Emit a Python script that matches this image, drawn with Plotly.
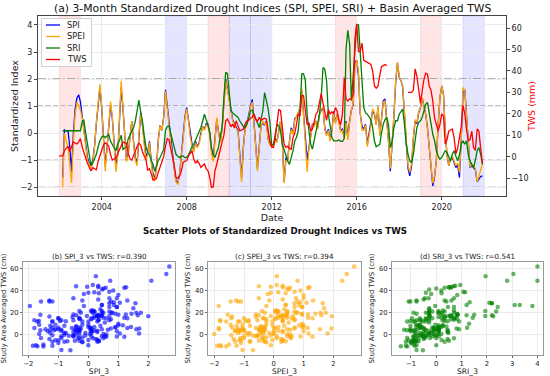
import pandas as pd
import plotly.graph_objects as go

nan = None

# ---- monthly series, Jan 2002 .. Dec 2021 (one row per year) ----
spi_3 = [
    nan, nan, -1.64, 0.12, 0.08, 0.1, -0.5, -1.43, 0.0, 0.9, 1.3, 1.42,
    1.15, 0.65, 0.1, -0.5, -0.9, -1.1, -1.2, -1.0, -0.45, 0.35, 1.2, 1.69,
    0.95, -0.25, -1.2, -0.55, 0.45, 1.05, 0.55, -0.5, -1.2, -0.8, 0.3, 1.7,
    0.9, -0.3, -1.0, -0.75, -0.1, 0.45, -0.3, -0.9, -1.1, 0.05, 0.75, 0.3,
    -0.4, -0.9, -0.7, -0.3, -1.0, -1.5, -1.7, -1.2, -0.2, 0.3, 0.1, 0.6,
    1.6, 1.0, 0.4, -0.3, -0.8, -1.3, -1.75, -1.85, -1.5, -0.8, -0.2, 0.6,
    0.95, 0.5, -0.1, -0.4, -0.65, -0.3, -0.5, -0.35, 0.0, 0.25, 0.15, 0.35,
    0.3, 0.0, -0.6, -0.9, -0.2, 0.5, 0.05, -0.3, 0.2, 1.0, 2.0, 1.65,
    1.2, 0.75, 0.5, 0.35, 0.2, 0.1, -0.75, -1.65, -0.5, 0.2, 0.35, 0.7,
    1.0, 1.25, 0.5, -0.4, -1.3, -0.5, 0.3, 0.35, 0.3, 0.45, -0.2, -0.4,
    -0.45, -0.4, -0.2, -0.3, 0.1, 0.45, -0.3, -1.8, -0.9, -1.0, -0.3, 0.2,
    0.0, 0.55, 0.6, 0.77, 0.9, 1.57, 0.7, -0.3, -1.0, -0.53, 0.0, 0.33,
    0.3, 0.45, 0.2, 0.7, 0.85, 0.95, 0.2, -0.05, 0.15, -0.25, 0.1, 0.8,
    0.4, 0.7, 0.45, 0.1, 0.15, -0.15, 0.45, -0.15, 0.45, 0.85, 1.05, 2.6,
    2.7, 2.1, 0.73, 0.25, 0.15, 0.33, -0.41, -0.04, 0.33, 0.83, 0.7, 0.33,
    0.95, 0.0, 0.5, 1.2, 1.26, 0.58, -0.3, -1.4, -0.5, 0.6, 1.9, 2.6,
    2.06, 1.94, 1.7, 0.7, -0.5, -1.3, -1.58, -1.2, -0.2, 0.46, 0.35, 0.75,
    0.95, 1.3, 1.0, 0.7, 0.2, -0.5, -1.3, -1.95, -1.6, -1.0, 0.3, 1.3,
    1.75, 1.44, 0.09, -0.8, -1.2, -0.95, -0.9, -1.1, -1.27, -1.15, -1.64, -0.28,
    1.5, 1.6, 0.7, -0.41, -1.27, -1.2, -1.27, -1.35, -1.8, -1.7, -1.6, -1.58,
]

spei_3 = [
    nan, nan, -2.0, 0.0, -0.3, -0.5, -1.15, -1.84, -0.3, 0.7, 1.14, 1.0,
    0.85, 0.55, 0.0, -0.55, -1.0, -1.15, -1.3, -1.1, -0.5, 0.4, 1.3, 1.81,
    1.0, -0.3, -1.4, -0.6, 0.45, 1.17, 0.6, -0.6, -1.43, -0.9, 0.3, 1.94,
    0.95, -0.35, -1.05, -0.8, -0.1, 0.45, -0.35, -1.0, -1.2, 0.0, 0.7, 0.3,
    -0.45, -1.0, -0.8, -0.35, -1.1, -1.6, -1.77, -1.25, -0.25, 0.3, 0.1, 0.55,
    1.55, 1.0, 0.35, -0.35, -0.85, -1.35, -1.8, -1.9, -1.5, -0.8, -0.25, 0.55,
    0.9, 0.45, -0.15, -0.45, -0.7, -0.35, -0.55, -0.4, -0.05, 0.25, 0.1, 0.3,
    0.25, -0.1, -0.7, -1.05, -0.3, 0.58, 0.0, -0.35, 0.15, 0.95, 1.95, 1.6,
    1.15, 0.7, 0.45, 0.3, 0.15, 0.05, -0.85, -1.8, -0.55, 0.15, 0.3, 0.65,
    0.95, 1.15, 0.45, -0.5, -1.4, -0.6, 0.25, 0.45, 0.3, 0.4, -0.25, -0.45,
    -0.5, -0.45, -0.25, -0.35, 0.05, 0.45, -0.35, -1.85, -1.0, -1.05, -0.35, 0.15,
    -0.05, 0.5, 0.6, 0.8, 0.95, 1.65, 0.7, -0.4, -1.43, -0.6, -0.05, 0.3,
    0.25, 0.45, 0.15, 0.7, 0.9, 0.95, 0.15, -0.1, 0.1, -0.3, 0.05, 0.75,
    0.35, 0.7, 0.4, 0.05, 0.1, -0.2, 0.4, -0.25, 0.4, 0.85, 1.1, 2.45,
    2.7, 2.3, 0.8, 0.1, 0.1, 0.3, -0.5, -0.1, 0.3, 0.9, 0.75, 0.3,
    1.0, -0.1, 0.45, 1.15, 1.2, 0.55, -0.35, -1.3, -0.45, 0.65, 1.95, 2.62,
    2.1, 1.94, 1.75, 0.75, -0.45, -1.2, -1.45, -1.1, -0.15, 0.5, 0.4, 0.8,
    0.95, 1.32, 1.0, 0.7, 0.15, -0.5, -1.27, -1.85, -1.55, -1.0, 0.3, 1.3,
    1.75, 1.4, 0.05, -0.8, -1.2, -0.95, -0.85, -1.05, -1.2, -1.1, -1.45, -0.25,
    1.69, 1.57, 0.7, -0.4, -1.25, -1.15, -1.2, -1.3, -1.8, -1.6, -1.3, -1.12,
]

sri_3 = [
    nan, nan, 0.09, 0.09, 0.09, 0.09, 0.09, 0.09, 0.09, 0.09, 0.09, 0.09,
    0.09, 0.45, 0.48, 0.0, -0.45, -0.9, -1.2, -1.1, -0.95, -0.78, -0.5, -0.28,
    -0.15, -0.1, -0.16, -0.1, -0.05, -0.3, -0.41, -0.55, -0.65, -0.4, -0.28, -0.07,
    -0.6, -0.55, -0.5, -0.2, -0.05, 0.1, 0.2, 0.45, 0.9, 1.22, 0.8, 0.45,
    -0.1, -0.53, -0.7, -0.8, -1.0, -1.15, -1.4, -1.2, -1.0, -0.9, -0.75, -0.6,
    0.1, 0.25, 0.27, 0.0, -0.28, -0.5, -0.78, -0.85, -0.9, -0.85, -0.84, -0.9,
    -0.9, -0.8, -0.65, -0.5, -0.41, -0.25, -0.16, 0.0, 0.21, 0.45, 0.7, 0.5,
    0.33, 0.0, -0.53, -0.78, -0.9, -0.7, -0.53, -0.1, 0.21, 1.3, 2.25, 2.2,
    1.44, 0.83, 0.75, 0.7, 0.62, 0.58, 0.45, 0.33, 0.25, 0.21, 0.33, 0.55,
    0.83, 0.85, 0.7, 0.58, 0.35, 0.21, 0.5, 0.83, 1.5, 1.2, 0.9, 0.4,
    -0.45, -0.41, -0.04, 0.33, 0.27, 0.09, -0.41, -0.65, -0.84, -1.02, -1.15, -0.9,
    -0.65, -0.28, -0.16, 0.09, 0.83, 2.19, 2.2, 1.94, 0.7, 0.09, -0.41, -0.59,
    -0.28, 0.09, 0.33, 0.7, 1.32, 2.43, 2.37, 1.94, 0.7, 0.21, -0.16, -0.28,
    -0.28, -0.28, -0.25, -0.3, -0.3, -0.2, 3.1, 3.8, 3.3, 1.2, 2.1, 3.05,
    4.0, 4.0, 2.8, 1.95, 0.95, 0.75, 0.7, 0.6, 0.5, 0.2, -0.3, -0.5,
    -0.45, -0.41, 0.0, 0.33, 0.5, 0.58, 0.3, -0.53, -0.3, 0.2, 0.46, 0.46,
    0.7, 0.83, 0.89, 0.33, -0.41, -0.78, -1.02, -1.09, -0.78, -0.28, 0.21, 0.4,
    0.46, 0.6, 0.83, 1.07, 1.14, 0.7, 0.33, -0.04, -0.28, -0.65, -0.84, -0.96,
    -0.9, -0.78, -0.65, -0.72, -0.9, -1.02, -0.78, -0.65, -0.85, -1.02, -0.8, -0.41,
    -0.28, -0.41, -0.28, -0.78, -1.02, -1.15, -1.27, -1.0, -0.65, -0.53, -0.78, -1.15,
]

tws_mm = [
    0.5, 0.5, 0.5, 3.0, 4.0, 5.0, 2.5, 5.0, 7.0, 6.5, 6.0, 7.0,
    8.5, 4.5, 1.5, -0.5, -3.0, -5.0, -6.5, -5.0, -5.5, -6.0, -2.0, 1.0,
    3.0, 5.5, 6.5, 6.0, 5.0, 1.0, -1.5, -1.0, -0.5, 1.5, 3.5, 5.5,
    7.0, 6.5, 6.3, 1.6, -0.8, -1.5, 0.5, 3.2, 5.0, 6.3, 5.5, 2.4,
    0.5, -1.5, -6.1, -5.5, -7.7, -10.8, -10.5, -10.0, -7.0, -4.6, -1.5, 0.1,
    5.0, 8.5, 8.0, 4.5, 0.0, -4.0, -9.6, -10.0, -9.0, -6.5, -2.6, -2.0,
    -1.8, 0.5, 1.5, 2.9, -1.0, -3.0, -1.8, -3.0, -4.9, -4.0, -3.3, -5.5,
    -6.5, -9.6, -14.2, -14.0, -6.5, -3.3, 0.5, 2.9, 7.0, 10.0, 16.8, 17.6,
    15.3, 14.0, 15.3, 13.5, 16.8, 14.0, 12.2, 12.5, 13.0, 15.3, 16.8, 17.0,
    18.0, 18.4, 20.0, 17.6, 16.5, 18.4, 17.0, 17.6, 18.0, 17.6, 12.0, 7.5,
    4.5, 4.4, 9.0, 15.0, 22.0, 21.5, 15.0, 6.0, 4.4, 5.0, 4.0, 3.6,
    9.0, 11.0, 15.0, 20.0, 19.0, 28.5, 28.5, 21.5, 15.0, 16.0, 12.0, 13.0,
    17.0, 20.0, 21.0, 25.0, 29.5, 25.0, 21.0, 17.0, 22.0, 20.0, 21.0, 20.0,
    23.0, 21.0, 17.0, 15.0, 20.0, 37.0, 27.0, 26.0, 27.0, 27.0, 29.0, 55.0,
    62.0, 49.0, 49.0, 53.0, 45.0, 44.5, 44.0, 43.5, 43.0, 40.0, 33.0, 32.0,
    33.0, 38.0, 42.0, 42.5, 43.0, 42.5, nan, nan, nan, nan, nan, nan,
    nan, nan, nan, nan, nan, 30.0, 30.0, 30.0, 31.0, 41.0, 37.5, 30.0,
    25.0, 31.0, 36.0, 39.0, 38.5, 33.0, 31.0, 26.0, 18.0, 15.0, 12.0, 15.0,
    20.0, 19.0, 6.0, 8.0, 12.0, 12.5, 13.0, 9.0, 1.5, 4.0, 9.0, 14.0,
    24.0, 20.0, 13.0, 7.5, 8.0, 12.0, 4.5, 3.0, 13.0, 12.0, 4.0, -3.0,
]

start_month = "2002-01-01"
dry_years = [2002, 2009, 2015, 2019]      # pink bands
wet_years = [2007, 2010, 2011, 2021]      # blue bands
year_ticks = [2004, 2008, 2012, 2016, 2020]
ref_levels = [1, -1, 2, -2]
legend_names = ["SPI", "SPEI", "SRI", "TWS"]
legend_colors = ["blue", "orange", "green", "red"]
scatter_titles = ["(b) SPI_3 vs TWS: r=0.390",
                  "(c) SPEI_3 vs TWS: r=0.394",
                  "(d) SRI_3 vs TWS: r=0.541"]
scatter_xlabels = ["SPI_3", "SPEI_3", "SRI_3"]

dates = pd.date_range(start_month, periods=len(spi_3), freq="MS")

FONT = "DejaVu Sans"
W, H = 550, 376
def px(x):
    return x / W
def py(y):
    return 1 - y / H

fig = go.Figure()

series = [(spi_3, "blue"), (spei_3, "orange"), (sri_3, "green")]
for (vals, col), name in zip(series, legend_names):
    fig.add_trace(go.Scatter(x=dates, y=vals, name=name, mode="lines",
                             line=dict(color=col, width=1.3),
                             xaxis="x", yaxis="y"))
fig.add_trace(go.Scatter(x=dates, y=tws_mm, name="TWS", mode="lines",
                         line=dict(color="red", width=1.3),
                         connectgaps=False, xaxis="x", yaxis="y2"))

scatter_sets = [(spi_3, "blue", "x2", "y3"), (spei_3, "orange", "x3", "y4"),
                (sri_3, "green", "x4", "y5")]
for vals, col, xa, ya in scatter_sets:
    xs, ys = [], []
    for v, t in zip(vals, tws_mm):
        if v is not None and t is not None:
            xs.append(v)
            ys.append(t)
    fig.add_trace(go.Scatter(x=xs, y=ys, mode="markers", showlegend=False,
                             marker=dict(color=col, size=4.5, opacity=0.6,
                                         line=dict(width=0)),
                             xaxis=xa, yaxis=ya))

TOP, BOT, LEFT, RIGHT = 16, 196, 38, 506

shapes = []
for yr in dry_years:
    shapes.append(dict(type="rect", xref="x", yref="paper",
                       x0=f"{yr}-01-01", x1=f"{yr + 1}-01-01",
                       y0=py(BOT), y1=py(TOP),
                       fillcolor="rgba(255,0,0,0.1)",
                       line=dict(color="rgba(255,0,0,0.12)", width=0.8),
                       layer="below"))
for yr in wet_years:
    shapes.append(dict(type="rect", xref="x", yref="paper",
                       x0=f"{yr}-01-01", x1=f"{yr + 1}-01-01",
                       y0=py(BOT), y1=py(TOP),
                       fillcolor="rgba(0,0,255,0.1)",
                       line=dict(color="rgba(0,0,255,0.12)", width=0.8),
                       layer="below"))
for lvl in ref_levels:
    dash = "5px,2.5px" if abs(lvl) == 1 else "8px,2.5px,1.5px,2.5px"
    shapes.append(dict(type="line", xref="paper", yref="y",
                       x0=px(LEFT), x1=px(RIGHT), y0=lvl, y1=lvl,
                       line=dict(color="rgba(0,0,0,0.65)", width=1, dash=dash),
                       layer="below"))

# compact legend box (drawn manually to match the small matplotlib legend)
LG_L, LG_T, LG_R, LG_B = 41.5, 18.5, 91.5, 66.5
shapes.append(dict(type="rect", xref="paper", yref="paper",
                   x0=px(LG_L), x1=px(LG_R), y0=py(LG_B), y1=py(LG_T),
                   fillcolor="rgba(255,255,255,0.85)",
                   line=dict(color="#d0d0d0", width=1), layer="above"))
row_y = [25, 36.5, 48, 59.5]
annotations = []
for name, col, ry in zip(legend_names, legend_colors, row_y):
    shapes.append(dict(type="line", xref="paper", yref="paper",
                       x0=px(46), x1=px(60), y0=py(ry), y1=py(ry),
                       line=dict(color=col, width=1.3), layer="above"))
    annotations.append(dict(text=name, x=px(65), y=py(ry), xref="paper",
                            yref="paper", showarrow=False, xanchor="left",
                            yanchor="middle",
                            font=dict(family=FONT, size=8.3, color="#222")))

tick_font = dict(family=FONT, size=8, color="#222")
sc_tick_font = dict(family=FONT, size=6.8, color="#222")
grid_col = "#ebebeb"

top_x_dom = [px(LEFT), px(RIGHT)]
top_y_dom = [py(BOT), py(TOP)]
sc_y_dom = [py(355), py(262)]
sc_x_doms = [[px(23), px(175)], [px(208), px(361)], [px(392), px(543)]]
sc_x_ranges = [[-2.18, 2.89], [-2.21, 2.93], [-1.75, 4.22]]
sc_x_ticks = [[-2, -1, 0, 1, 2], [-2, -1, 0, 1, 2], [-1, 0, 1, 2, 3, 4]]

layout = dict(
    width=W, height=H, autosize=False,
    margin=dict(l=0, r=0, t=0, b=0),
    paper_bgcolor="white", plot_bgcolor="white",
    font=dict(family=FONT, size=9, color="#222"),
    showlegend=False,
    xaxis=dict(domain=top_x_dom, anchor="y", type="date",
               range=["2001-01-01", "2023-01-10"],
               tickvals=[f"{y}-01-01" for y in year_ticks],
               ticktext=[str(y) for y in year_ticks],
               showgrid=True, gridcolor=grid_col, gridwidth=1,
               showline=True, linecolor="#444", linewidth=1, mirror=True,
               ticks="outside", ticklen=3, tickcolor="#444",
               tickfont=tick_font, automargin=False, zeroline=False,
               title=dict(text="Date", font=dict(family=FONT, size=9.5),
                          standoff=0)),
    yaxis=dict(domain=top_y_dom, anchor="x", range=[-2.32, 4.33],
               tickvals=[-2, -1, 0, 1, 2, 3, 4],
               showgrid=True, gridcolor=grid_col, gridwidth=1,
               showline=True, linecolor="#444", linewidth=1, mirror=True,
               ticks="outside", ticklen=3, tickcolor="#444",
               tickfont=tick_font, automargin=False, zeroline=False,
               title=dict(text="Standardized Index",
                          font=dict(family=FONT, size=9.5), standoff=0)),
    yaxis2=dict(overlaying="y", anchor="x", side="right",
                range=[-18.2, 65.6], tickvals=[-10, 0, 10, 20, 30, 40, 50, 60],
                showgrid=False, showline=False, zeroline=False,
                ticks="outside", ticklen=3, tickcolor="#444",
                tickfont=tick_font, automargin=False,
                title=dict(text="TWS (mm)",
                           font=dict(family=FONT, size=9.5, color="red"),
                           standoff=0)),
    shapes=shapes,
)

names = [("x2", "y3"), ("x3", "y4"), ("x4", "y5")]
for i, (xa, ya) in enumerate(names):
    xk = "xaxis" + xa[1:]
    yk = "yaxis" + ya[1:]
    layout[xk] = dict(domain=sc_x_doms[i], anchor=ya, range=sc_x_ranges[i],
                      tickvals=sc_x_ticks[i], showgrid=True,
                      gridcolor=grid_col, showline=True, linecolor="#999",
                      linewidth=1, mirror=True, ticks="outside", ticklen=2,
                      tickcolor="#666", tickfont=sc_tick_font,
                      zeroline=False, automargin=False,
                      title=dict(text=scatter_xlabels[i],
                                 font=dict(family=FONT, size=7.6), standoff=1))
    layout[yk] = dict(domain=sc_y_dom, anchor=xa, range=[-18.5, 66],
                      tickvals=[0, 20, 40, 60], showgrid=True,
                      gridcolor=grid_col, showline=True, linecolor="#999",
                      linewidth=1, mirror=True, ticks="outside", ticklen=2,
                      tickcolor="#666", tickfont=sc_tick_font,
                      zeroline=False, automargin=False,
                      title=dict(text="Study Area Averaged TWS (cm)",
                                 font=dict(family=FONT, size=7), standoff=3))

annotations += [
    dict(text="(a) 3-Month Standardized Drought Indices (SPI, SPEI, SRI) + Basin Averaged TWS",
         x=(top_x_dom[0] + top_x_dom[1]) / 2, y=py(8), xref="paper", yref="paper",
         showarrow=False, xanchor="center", yanchor="middle",
         font=dict(family=FONT, size=10.8, color="#111")),
    dict(text="<b>Scatter Plots of Standardized Drought Indices vs TWS</b>",
         x=0.5, y=py(231), xref="paper", yref="paper", showarrow=False,
         xanchor="center", yanchor="middle",
         font=dict(family=FONT, size=8.7, color="#111")),
]
for i, t in enumerate(scatter_titles):
    annotations.append(dict(text=t, x=(sc_x_doms[i][0] + sc_x_doms[i][1]) / 2,
                            y=py(256), xref="paper", yref="paper",
                            showarrow=False, xanchor="center", yanchor="middle",
                            font=dict(family=FONT, size=7.2, color="#222")))
layout["annotations"] = annotations

fig.update_layout(**layout)
fig.write_html("out.html",
               config={"displayModeBar": False},
               post_script="document.body.style.margin='0';"
                           "document.body.style.padding='0';")
